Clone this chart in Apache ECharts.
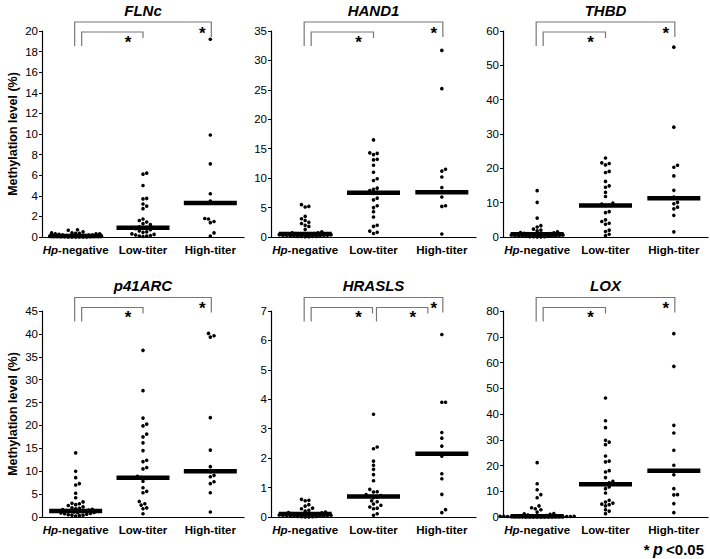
<!DOCTYPE html>
<html><head><meta charset="utf-8">
<script src="https://cdn.jsdelivr.net/npm/echarts@6/dist/echarts.min.js"></script>
<style>html,body{margin:0;padding:0;background:#fff}#c{width:710px;height:559px}</style>
</head><body><div id="c"></div>
<script>
const categories = ['Hp-negative', 'Low-titer', 'High-titer'];
const genes = ['FLNc', 'HAND1', 'THBD', 'p41ARC', 'HRASLS', 'LOX'];
const yMaxes = [20, 35, 60, 45, 7, 80];
const yIntervals = [2, 5, 10, 5, 1, 10];

const flncNeg = [0.7,0.65,0.5,0.4,0.4,0.35,0.35,0.3,0.3,0.3,0.25,0.2,0.2,0.2,0.15,0.15,0.1,0.1,0.1,0.1,0.1,0.08,0.05,0.05,0.05,0.05,0.03,0.02,0.02,0.01,0.01,0,0,0,0];
const flncLow = [6.2,6.1,5.0,3.75,3.7,3.2,3.0,2.75,1.75,1.6,1.45,1.3,1.2,1.0,0.95,0.9,0.8,0.7,0.6,0.5,0.45,0.3,0.25,0.2,0.15,0.1,0.1,0.05];
const flncHigh = [19.2,9.9,7.1,4.2,3.5,1.8,1.75,1.5,1.4,0.4,0.1];
const flncMedian = [0.1, 0.9, 3.3];

const hand1Neg = [5.5,5.2,5.1,3.5,3.1,2.8,2.5,2.3,2.0,1.8,1.3,0.9,0.7,0.7,0.6,0.6,0.5,0.5,0.5,0.4,0.4,0.4,0.3,0.3,0.3,0.3,0.2,0.2,0.2,0.1,0.1,0.1,0.1,0.05,0.05];
const hand1Low = [16.5,14.3,14.2,14.0,13.2,13.1,12.2,11.0,9.9,9.6,8.3,8.1,7.9,7.6,7.4,6.6,6.3,5.3,5.0,4.3,3.4,2.0,1.8,1.0,0.8,0.6];
const hand1High = [31.7,25.2,11.5,11.2,10.2,8.4,7.6,6.8,5.3,5.2,0.5];
const hand1Median = [0.5, 7.5, 7.6];

const thbdNeg = [13.5,10.1,5.5,3.3,2.9,2.3,2.0,1.8,1.5,1.3,1.2,1.1,1.0,1.0,0.9,0.8,0.8,0.7,0.7,0.6,0.6,0.5,0.5,0.4,0.4,0.3,0.3,0.2,0.2,0.1,0.1,0.1,0.05,0.05];
const thbdLow = [23.0,21.6,21.4,21.0,19.1,18.8,16.2,14.9,14.5,13.0,11.8,9.9,9.6,9.3,9.2,7.4,7.1,5.0,4.5,4.0,3.7,2.0,1.6,0.8,0.4];
const thbdHigh = [55.3,32.0,20.9,20.3,17.8,13.6,11.6,10.1,9.7,8.7,8.2,6.3,1.5];
const thbdMedian = [0.8, 9.2, 11.3];

const p41Neg = [14.0,10.0,8.6,7.3,7.0,5.2,4.2,3.3,3.0,2.9,2.7,2.5,2.2,2.0,1.9,1.8,1.7,1.6,1.5,1.4,1.3,1.3,1.2,1.1,1.0,1.0,0.9,0.8,0.7,0.6,0.5,0.4,0.4,0.3,0.2];
const p41Low = [36.4,27.6,21.6,20.3,19.9,18.1,17.5,16.2,14.5,12.4,12.1,10.8,10.5,8.9,8.6,8.4,7.8,6.4,5.6,5.3,3.4,2.9,2.6,2.0,1.8,0.7];
const p41High = [40.1,39.6,39.3,21.7,14.6,11.0,9.9,9.1,8.8,7.7,7.3,5.3,1.1];
const p41Median = [1.3, 8.6, 10.0];

const hraslsNeg = [0.6,0.57,0.55,0.42,0.37,0.3,0.28,0.23,0.2,0.17,0.15,0.14,0.12,0.11,0.1,0.1,0.1,0.09,0.08,0.08,0.07,0.06,0.06,0.05,0.05,0.04,0.04,0.03,0.03,0.02,0.02,0.01,0.01,0,0];
const hraslsLow = [3.49,2.38,2.32,1.90,1.76,1.62,1.44,1.23,0.94,0.86,0.85,0.76,0.73,0.70,0.68,0.66,0.55,0.52,0.44,0.40,0.34,0.30,0.28,0.11,0.06];
const hraslsHigh = [6.2,3.9,3.9,2.87,2.68,2.41,2.07,1.47,1.30,0.77,0.25,0.15];
const hraslsMedian = [0.1, 0.7, 2.15];

const loxNeg = [21.1,12.9,10.6,8.7,7.5,4.3,3.6,3.2,2.8,1.9,1.3,1.2,1.0,0.8,0.6,0.5,0.5,0.4,0.4,0.3,0.3,0.3,0.2,0.2,0.2,0.2,0.1,0.1,0.1,0.1,0.1,0.1,0,0,0,0,0,0,0,0];
const loxLow = [46.2,37.4,34.7,29.8,29.1,28.1,23.7,21.7,21.4,18.0,17.5,15.3,13.9,13.3,12.9,12.6,11.7,11.0,9.3,6.5,5.8,5.4,5.0,4.8,4.3,2.8,2.3,1.3];
const loxHigh = [71.2,58.5,35.6,32.6,25.9,20.1,18.0,16.4,11.0,8.7,8.6,5.2,1.7];
const loxMedian = [0.3, 12.7, 18.0];

// significance comparisons (category index pairs) per panel
const sigPairs = [
  [[0,2],[0,1]], [[0,2],[0,1]], [[0,2],[0,1]],
  [[0,2],[0,1]], [[0,2],[0,1],[1,2]], [[0,2],[0,1]]
];

const panelGroups = [
  [flncNeg, flncLow, flncHigh], [hand1Neg, hand1Low, hand1High], [thbdNeg, thbdLow, thbdHigh],
  [p41Neg, p41Low, p41High], [hraslsNeg, hraslsLow, hraslsHigh], [loxNeg, loxLow, loxHigh]
];
const panelMedians = [flncMedian, hand1Median, thbdMedian, p41Median, hraslsMedian, loxMedian];

const FONT = '"Liberation Sans", Arial, Helvetica, sans-serif';
const gridBoxes = [
  {left: 42, top: 31, width: 202, height: 206},
  {left: 271, top: 31, width: 205, height: 206},
  {left: 503, top: 31, width: 205, height: 206},
  {left: 42, top: 311, width: 202, height: 206},
  {left: 271, top: 311, width: 205, height: 206},
  {left: 503, top: 311, width: 205, height: 206}
];
const swarmSpread = [26, 27, 27, 27, 29, 38];

const chart = echarts.init(document.getElementById('c'), null, {renderer: 'svg'});

function buildOption(dotData) {
  const grid = [], xAxis = [], yAxis = [], series = [];
  for (let i = 0; i < 6; i++) {
    grid.push(Object.assign({containLabel: false}, gridBoxes[i]));
    xAxis.push({
      type: 'category', gridIndex: i, data: categories, boundaryGap: true,
      axisLine: {show: true, lineStyle: {color: '#000', width: 1.2}},
      axisTick: {show: false},
      axisLabel: {
        margin: 7, interval: 0,
        formatter: v => v === 'Hp-negative' ? '{i|Hp}{b|-negative}' : '{b|' + v + '}',
        rich: {
          i: {fontFamily: FONT, fontSize: 11.5, fontWeight: 'bold', fontStyle: 'italic', color: '#000'},
          b: {fontFamily: FONT, fontSize: 11.5, fontWeight: 'bold', color: '#000'}
        }
      },
      splitLine: {show: false}
    });
    yAxis.push({
      type: 'value', gridIndex: i, min: 0, max: yMaxes[i], interval: yIntervals[i],
      name: (i % 3 === 0) ? 'Methylation level (%)' : '',
      nameLocation: 'middle', nameGap: 23,
      nameTextStyle: {fontFamily: FONT, fontSize: 12.5, fontWeight: 'bold', color: '#000'},
      axisLine: {show: true, lineStyle: {color: '#000', width: 1.2}},
      axisTick: {show: true, length: 3, lineStyle: {color: '#000'}},
      axisLabel: {fontFamily: FONT, fontSize: 11.5, color: '#000', margin: 4},
      splitLine: {show: false}
    });
    series.push({
      type: 'scatter', xAxisIndex: i, yAxisIndex: i, symbol: 'circle', symbolSize: 3.6,
      itemStyle: {color: '#000', opacity: 1}, silent: true, z: 2,
      data: dotData ? dotData[i] : panelGroups[i].flatMap((g, ci) => g.map(v => [ci, v]))
    });
    series.push({
      type: 'scatter', xAxisIndex: i, yAxisIndex: i, symbol: 'rect', symbolSize: [53, 4.5],
      itemStyle: {color: '#000', opacity: 1}, silent: true, z: 3,
      data: panelMedians[i].map((m, ci) => [ci, m])
    });
  }
  return {animation: false, backgroundColor: '#fff', grid, xAxis, yAxis, series};
}

chart.setOption(buildOption(null));

// beeswarm layout in pixel space, limited to a maximum horizontal spread
function swarm(ys, d, maxSpread) {
  const order = ys.map((y, k) => k).sort((a, b) => ys[b] - ys[a]);
  const placed = [], out = new Array(ys.length);
  const step = d / 2;
  const nMax = Math.floor(maxSpread / step);
  for (const k of order) {
    const y = ys[k];
    let best = 0, bestScore = -1;
    for (let s = 0; s <= 2 * nMax; s++) {
      const n = Math.ceil(s / 2);
      const cand = s === 0 ? 0 : (s % 2 ? n : -n) * step;
      let minD = Infinity;
      for (const p of placed) {
        const dd = (p.x - cand) ** 2 + (p.y - y) ** 2;
        if (dd < minD) minD = dd;
      }
      if (minD >= d * d - 0.01) { best = cand; bestScore = Infinity; break; }
      if (minD > bestScore + 0.01) { bestScore = minD; best = cand; }
    }
    placed.push({x: best, y});
    out[k] = best;
  }
  return out;
}

const dotData = [];
const graphics = [];
for (let i = 0; i < 6; i++) {
  const items = [];
  panelGroups[i].forEach((g, ci) => {
    const ys = g.map(v => chart.convertToPixel({gridIndex: i}, [ci, v])[1]);
    const dxs = swarm(ys, 3.7, ci === 0 ? swarmSpread[i] : 26);
    g.forEach((v, k) => items.push({value: [ci, v], symbolOffset: [dxs[k], 0]}));
  });
  dotData.push(items);

  const c = [0, 1, 2].map(ci => chart.convertToPixel({gridIndex: i}, [ci, 0])[0]);
  const sh = i < 3 ? 0 : 275.5;
  const has12 = sigPairs[i].some(p => p[0] === 1);
  sigPairs[i].forEach(p => {
    let xl, xr, top, lb, rb, sx, sy;
    if (p[0] === 0 && p[1] === 2) { xl = c[0] - 1; xr = c[2] + 1; top = 22; lb = 46; rb = 37; sx = c[2] - 8; sy = 33; }
    else if (p[0] === 0 && p[1] === 1) { xl = c[0] + 6; xr = has12 ? c[1] - 1 : c[1]; top = 32; lb = 46; rb = 38; sx = c[1] - 15; sy = 42; }
    else { xl = c[1] + 3; xr = c[2] - 14; top = 32; lb = 46; rb = 38; sx = c[2] - 29; sy = 42; }
    graphics.push({
      type: 'polyline', silent: true,
      shape: {points: [[xl, lb + sh], [xl, top + sh], [xr, top + sh], [xr, rb + sh]]},
      style: {stroke: '#777', lineWidth: 1.2, fill: null}
    });
    graphics.push({
      type: 'text', silent: true, x: sx, y: sy + sh,
      style: {text: '*', font: 'bold 17px ' + FONT, fill: '#000', align: 'center', verticalAlign: 'middle'}
    });
  });
  graphics.push({
    type: 'text', silent: true, x: c[1], y: i < 3 ? 10 : 285,
    style: {text: genes[i], font: 'italic bold 15px ' + FONT, fill: '#000', align: 'center', verticalAlign: 'middle'}
  });
}
graphics.push({
  type: 'text', silent: true, x: 704, y: 549,
  style: {
    text: '{s|*} {p|p} {n|<0.05}', align: 'right', verticalAlign: 'middle',
    rich: {
      s: {font: 'bold 15px ' + FONT, fill: '#000'},
      p: {font: 'italic bold 16px ' + FONT, fill: '#000'},
      n: {font: 'bold 15px ' + FONT, fill: '#000'}
    }
  }
});

const opt = buildOption(dotData);
opt.graphic = graphics;
chart.setOption(opt, true);
</script>
</body></html>
